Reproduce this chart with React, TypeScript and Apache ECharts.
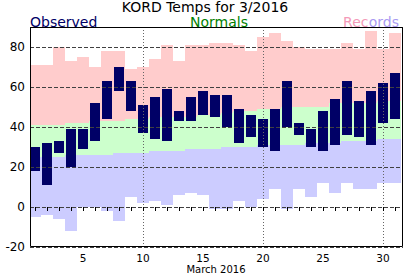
import React, { useEffect, useRef } from "react";
import * as echarts from "echarts";

const DAYS = [1, 2, 3, 4, 5, 6, 7, 8, 9, 10, 11, 12, 13, 14, 15, 16, 17, 18, 19, 20, 21, 22, 23, 24, 25, 26, 27, 28, 29, 30, 31];
const OBS_HIGH = [30, 32, 33, 39, 39, 52, 63, 70, 63, 51, 55, 59, 48, 55, 58, 56, 56, 49, 46, 44, 49, 63, 42, 39, 48, 54, 63, 53, 58, 62, 67];
const OBS_LOW = [18, 11, 27, 20, 29, 33, 44, 58, 48, 37, 34, 33, 43, 43, 46, 45, 40, 32, 35, 30, 28, 40, 36, 30, 28, 31, 36, 35, 31, 42, 44];
const NORMAL_HIGH = [41, 41, 41, 42, 42, 43, 43, 43, 44, 44, 45, 45, 45, 45, 46, 46, 47, 48, 48, 49, 49, 50, 50, 50, 50, 52, 52, 52, 52, 53, 53];
const NORMAL_LOW = [25, 25, 25, 26, 26, 26, 26, 27, 27, 27, 28, 28, 28, 29, 29, 29, 30, 30, 30, 31, 31, 31, 31, 32, 32, 32, 33, 33, 33, 34, 34];
const RECORD_HIGH = [71, 71, 80, 73, 75, 70, 78, 78, 69, 70, 74, 81, 73, 81, 81, 82, 82, 81, 78, 85, 87, 83, 80, 79, 79, 79, 82, 79, 88, 79, 87];
const RECORD_LOW = [-5, -4, -6, -12, 0, 0, -2, -7, 5, 2, 3, 1, 6, 7, 6, -1, -1, 3, 0, 4, 9, -1, 9, 5, 12, 7, 12, 9, 9, 12, 12];
const X_LABELS = [5, 10, 15, 20, 25, 30];
const X_GRID = [10, 20, 30];
const Y_TICKS = [-20, 0, 20, 40, 60, 80];

const FONT = '"DejaVu Sans", sans-serif';

function bandRender(color: string) {
  return (params: any, api: any) => {
    const d = api.value(0);
    const lo = api.value(1);
    const hi = api.value(2);
    const p0 = api.coord([d - 0.5, lo]);
    const p1 = api.coord([d + 0.5, hi]);
    const x0 = Math.round(p0[0]);
    const x1 = Math.round(p1[0]);
    const shape = echarts.graphic.clipRectByRect(
      { x: x0, y: p1[1], width: x1 - x0, height: p0[1] - p1[1] },
      { x: params.coordSys.x, y: params.coordSys.y, width: params.coordSys.width, height: params.coordSys.height }
    );
    if (!shape) return null;
    return { type: "rect", shape, style: { fill: color } };
  };
}

function barRender(params: any, api: any) {
  const d = api.value(0);
  const lo = api.coord([d, api.value(1)]);
  const hi = api.coord([d, api.value(2)]);
  const w = api.size([1, 0])[0] * 0.84;
  return {
    type: "rect",
    shape: { x: Math.round(lo[0] - w / 2), y: hi[1], width: Math.round(w), height: lo[1] - hi[1] },
    style: { fill: "#000066" },
  };
}

export default function App() {
  const ref = useRef<HTMLDivElement>(null);
  useEffect(() => {
    if (!ref.current) return;
    const chart = echarts.init(ref.current, undefined, { renderer: "svg" });
    const band = (lo: number[], hi: number[]) => DAYS.map((d, i) => [d, lo[i], hi[i]]);
    const option: any = {
      animation: false,
      backgroundColor: "#fff",
      textStyle: { fontFamily: FONT },
      grid: { left: 30, right: 9, top: 27, bottom: 29, containLabel: false, outerBoundsMode: "none" },
      xAxis: {
        type: "value",
        min: 0.58,
        max: 31.67,
        z: 10,
        axisLine: { show: false },
        axisTick: { show: true, customValues: DAYS, length: 4, lineStyle: { color: "#000" } },
        axisLabel: { show: true, customValues: X_LABELS, margin: 5, fontSize: 10.5, color: "#000", fontFamily: FONT },
        splitLine: { show: false },
      },
      yAxis: {
        type: "value",
        min: -20,
        max: 90,
        interval: 20,
        z: 10,
        axisLine: { show: false },
        axisTick: { show: false },
        axisLabel: {
          fontSize: 12,
          color: "#000",
          margin: 5,
          fontFamily: FONT,
          formatter: (v: number) => (Y_TICKS.indexOf(v) >= 0 ? String(v) : ""),
        },
        splitLine: { show: true, lineStyle: { color: "#404040", type: [4, 2], width: 1 } },
      },
      series: [
        { type: "custom", z: 2, renderItem: bandRender("#ffcccc"), encode: { x: 0, y: [1, 2] }, data: band(NORMAL_HIGH, RECORD_HIGH) },
        { type: "custom", z: 2, renderItem: bandRender("#ccffcc"), encode: { x: 0, y: [1, 2] }, data: band(NORMAL_LOW, NORMAL_HIGH) },
        { type: "custom", z: 2, renderItem: bandRender("#ccccff"), encode: { x: 0, y: [1, 2] }, data: band(RECORD_LOW, NORMAL_LOW) },
        { type: "custom", z: 3, renderItem: barRender, encode: { x: 0, y: [1, 2] }, data: band(OBS_LOW, OBS_HIGH) },
        {
          type: "line",
          z: 11,
          data: [],
          showSymbol: false,
          markLine: {
            silent: true,
            symbol: "none",
            label: { show: false },
            lineStyle: { color: "#666", type: [1, 2], width: 1 },
            data: X_GRID.map((x) => ({ xAxis: x })),
          },
        },
      ],
      graphic: [
        {
          type: "rect",
          z: 100,
          shape: { x: 30.5, y: 27.5, width: 372, height: 219 },
          style: { fill: "none", stroke: "#000", lineWidth: 1 },
        },
        {
          type: "text",
          z: 100,
          x: 205,
          y: 6.5,
          style: { text: "KORD Temps for 3/2016", fill: "#000", font: `14px ${FONT}`, align: "center", verticalAlign: "middle" },
        },
        {
          type: "text",
          z: 100,
          x: 30,
          y: 21.5,
          style: { text: "Observed", fill: "#000066", font: `14px ${FONT}`, align: "left", verticalAlign: "middle" },
        },
        {
          type: "text",
          z: 100,
          x: 219,
          y: 21.5,
          style: { text: "Normals", fill: "#008000", font: `14px ${FONT}`, align: "center", verticalAlign: "middle" },
        },
        {
          type: "text",
          z: 100,
          x: 368.5,
          y: 21.5,
          style: { text: "Rec", fill: "#f49ab8", font: `14px ${FONT}`, align: "right", verticalAlign: "middle" },
        },
        {
          type: "text",
          z: 100,
          x: 399,
          y: 21.5,
          style: { text: "ords", fill: "#a99af2", font: `14px ${FONT}`, align: "right", verticalAlign: "middle" },
        },
        {
          type: "text",
          z: 100,
          x: 216,
          y: 269,
          style: { text: "March 2016", fill: "#000", font: `10px ${FONT}`, align: "center", verticalAlign: "middle" },
        },
      ],
    };
    chart.setOption(option);
    return () => chart.dispose();
  }, []);
  return <div ref={ref} style={{ position: "fixed", left: 0, top: 0, width: 412, height: 276 }} />;
}
